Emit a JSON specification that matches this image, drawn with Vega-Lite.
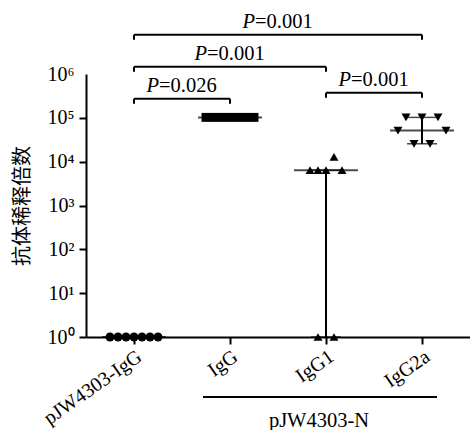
{
  "$schema": "https://vega.github.io/schema/vega-lite/v6.json",
  "width": 384,
  "height": 263,
  "autosize": {"type": "none"},
  "padding": {"left": 86, "top": 74, "right": 0, "bottom": 93},
  "background": "white",
  "datasets": {
    "points": [
      {"group": "pJW4303-IgG", "value": 1, "col": -3},
      {"group": "pJW4303-IgG", "value": 1, "col": -2},
      {"group": "pJW4303-IgG", "value": 1, "col": -1},
      {"group": "pJW4303-IgG", "value": 1, "col": 0},
      {"group": "pJW4303-IgG", "value": 1, "col": 1},
      {"group": "pJW4303-IgG", "value": 1, "col": 2},
      {"group": "pJW4303-IgG", "value": 1, "col": 3},
      {"group": "IgG", "value": 102400, "col": -3},
      {"group": "IgG", "value": 102400, "col": -2},
      {"group": "IgG", "value": 102400, "col": -1},
      {"group": "IgG", "value": 102400, "col": 0},
      {"group": "IgG", "value": 102400, "col": 1},
      {"group": "IgG", "value": 102400, "col": 2},
      {"group": "IgG", "value": 102400, "col": 3},
      {"group": "IgG1", "value": 12800, "col": 1},
      {"group": "IgG1", "value": 6400, "col": -2},
      {"group": "IgG1", "value": 6400, "col": -1},
      {"group": "IgG1", "value": 6400, "col": 0},
      {"group": "IgG1", "value": 6400, "col": 2},
      {"group": "IgG1", "value": 1, "col": -1},
      {"group": "IgG1", "value": 1, "col": 1},
      {"group": "IgG2a", "value": 102400, "col": -2},
      {"group": "IgG2a", "value": 102400, "col": 0},
      {"group": "IgG2a", "value": 102400, "col": 2},
      {"group": "IgG2a", "value": 51200, "col": -3},
      {"group": "IgG2a", "value": 51200, "col": 3},
      {"group": "IgG2a", "value": 25600, "col": -1},
      {"group": "IgG2a", "value": 25600, "col": 1}
    ],
    "summary": [
      {"group": "pJW4303-IgG", "median": 1, "lo": 1, "hi": 1},
      {"group": "IgG", "median": 102400, "lo": 102400, "hi": 102400},
      {"group": "IgG1", "median": 6400, "lo": 1, "hi": 6400},
      {"group": "IgG2a", "median": 51200, "lo": 25600, "hi": 102400}
    ],
    "brackets": [
      {"from": "pJW4303-IgG", "to": "IgG2a", "y": 7850000, "p": "=0.001", "anchor": "IgG", "bp": 1},
      {"from": "pJW4303-IgG", "to": "IgG1", "y": 1460000, "p": "=0.001", "anchor": "IgG", "bp": 0.5},
      {"from": "pJW4303-IgG", "to": "IgG", "y": 271000, "p": "=0.026", "anchor": "pJW4303-IgG", "bp": 1},
      {"from": "IgG1", "to": "IgG2a", "y": 372000, "p": "=0.001", "anchor": "IgG1", "bp": 1}
    ],
    "grouplabel": [
      {"from": "IgG", "to": "IgG2a", "anchor": "IgG1", "y": 0.0428, "ty": 0.0088, "label": "pJW4303-N"}
    ]
  },
  "layer": [
    {
      "data": {"name": "summary"},
      "transform": [{"filter": "datum.lo < datum.hi"}],
      "mark": {"type": "rule", "color": "black", "strokeWidth": 2},
      "encoding": {
        "x": {"field": "group", "type": "nominal", "title": null,
              "scale": {"domain": ["pJW4303-IgG", "IgG", "IgG1", "IgG2a"], "paddingInner": 0, "paddingOuter": 0}},
        "y": {"field": "lo", "type": "quantitative", "title": "抗体稀释倍数",
              "scale": {"type": "log", "domain": [1, 1000000]},
              "axis": {"title": "抗体稀释倍数", "titlePadding": 15, "values": [1, 10, 100, 1000, 10000, 100000, 1000000],
                       "tickOpacity": {"condition": {"test": "datum.value >= 1000000", "value": 0}, "value": 1},
                       "labelExpr": "'10' + ['⁰','¹','²','³','⁴','⁵','⁶'][round(log(datum.value)/LN10)]"}},
        "y2": {"field": "hi"}
      }
    },
    {
      "data": {"name": "summary"},
      "transform": [{"filter": "datum.lo < datum.hi"}, {"fold": ["lo", "hi"], "as": ["k", "v"]}],
      "mark": {"type": "tick", "color": "black", "size": 30, "thickness": 1.5},
      "encoding": {
        "x": {"field": "group", "type": "nominal"},
        "y": {"field": "v", "type": "quantitative"}
      }
    },
    {
      "data": {"name": "summary"},
      "mark": {"type": "tick", "color": "black", "size": 64, "thickness": 2},
      "encoding": {
        "x": {"field": "group", "type": "nominal"},
        "y": {"field": "median", "type": "quantitative"}
      }
    },
    {
      "data": {"name": "points"},
      "mark": {"type": "point", "filled": true, "color": "black", "opacity": 1, "size": 80},
      "encoding": {
        "x": {"field": "group", "type": "nominal"},
        "xOffset": {"field": "col", "type": "quantitative", "scale": {"domain": [-3, 3], "range": [24, 72]}},
        "y": {"field": "value", "type": "quantitative"},
        "shape": {"field": "group", "type": "nominal", "legend": null,
                  "scale": {"domain": ["pJW4303-IgG", "IgG", "IgG1", "IgG2a"], "range": ["circle", "square", "triangle-up", "triangle-down"]}}
      }
    },
    {
      "data": {"name": "brackets"},
      "mark": {"type": "rule", "color": "black", "strokeWidth": 2},
      "encoding": {
        "x": {"field": "from", "type": "nominal"},
        "x2": {"field": "to"},
        "y": {"field": "y", "type": "quantitative"}
      }
    },
    {
      "data": {"name": "brackets"},
      "transform": [{"fold": ["from", "to"], "as": ["end", "cat"]}],
      "mark": {"type": "rule", "color": "black", "strokeWidth": 2, "y2Offset": 5},
      "encoding": {
        "x": {"field": "cat", "type": "nominal"},
        "y": {"field": "y", "type": "quantitative"},
        "y2": {"field": "y"}
      }
    },
    {
      "data": {"name": "brackets"},
      "transform": [{"filter": "datum.bp == 1"}],
      "mark": {"type": "text", "color": "black", "font": "Liberation Serif", "fontSize": 20.5, "fontStyle": "italic", "align": "right", "baseline": "alphabetic", "dx": -23, "dy": -7},
      "encoding": {
        "x": {"field": "anchor", "type": "nominal", "bandPosition": 1},
        "y": {"field": "y", "type": "quantitative"},
        "text": {"value": "P"}
      }
    },
    {
      "data": {"name": "brackets"},
      "transform": [{"filter": "datum.bp == 1"}],
      "mark": {"type": "text", "color": "black", "font": "Liberation Serif", "fontSize": 20.5, "align": "left", "baseline": "alphabetic", "dx": -23, "dy": -7},
      "encoding": {
        "x": {"field": "anchor", "type": "nominal", "bandPosition": 1},
        "y": {"field": "y", "type": "quantitative"},
        "text": {"field": "p"}
      }
    },
    {
      "data": {"name": "brackets"},
      "transform": [{"filter": "datum.bp == 0.5"}],
      "mark": {"type": "text", "color": "black", "font": "Liberation Serif", "fontSize": 20.5, "fontStyle": "italic", "align": "right", "baseline": "alphabetic", "dx": -23, "dy": -7},
      "encoding": {
        "x": {"field": "anchor", "type": "nominal", "bandPosition": 0.5},
        "y": {"field": "y", "type": "quantitative"},
        "text": {"value": "P"}
      }
    },
    {
      "data": {"name": "brackets"},
      "transform": [{"filter": "datum.bp == 0.5"}],
      "mark": {"type": "text", "color": "black", "font": "Liberation Serif", "fontSize": 20.5, "align": "left", "baseline": "alphabetic", "dx": -23, "dy": -7},
      "encoding": {
        "x": {"field": "anchor", "type": "nominal", "bandPosition": 0.5},
        "y": {"field": "y", "type": "quantitative"},
        "text": {"field": "p"}
      }
    },
    {
      "data": {"name": "grouplabel"},
      "mark": {"type": "rule", "color": "black", "strokeWidth": 2, "xOffset": -27, "x2Offset": 15},
      "encoding": {
        "x": {"field": "from", "type": "nominal"},
        "x2": {"field": "to"},
        "y": {"field": "y", "type": "quantitative"}
      }
    },
    {
      "data": {"name": "grouplabel"},
      "mark": {"type": "text", "color": "black", "font": "Liberation Serif", "fontSize": 20.5, "align": "center", "baseline": "alphabetic", "dx": -7},
      "encoding": {
        "x": {"field": "anchor", "type": "nominal"},
        "y": {"field": "ty", "type": "quantitative"},
        "text": {"field": "label"}
      }
    }
  ],
  "config": {
    "view": {"stroke": null},
    "axis": {
      "domainColor": "black", "domainWidth": 2, "tickColor": "black", "tickWidth": 2, "tickSize": 7,
      "labelColor": "black", "labelFont": "Liberation Serif", "labelFontSize": 20, "grid": false,
      "titleFont": "Noto Sans CJK SC", "titleFontSize": 20, "titleFontWeight": "normal", "titleColor": "black"
    },
    "axisX": {"labelAngle": -35, "labelAlign": "right", "labelBaseline": "top", "labelPadding": 2, "title": null},
    "axisY": {"labelPadding": 5}
  }
}
